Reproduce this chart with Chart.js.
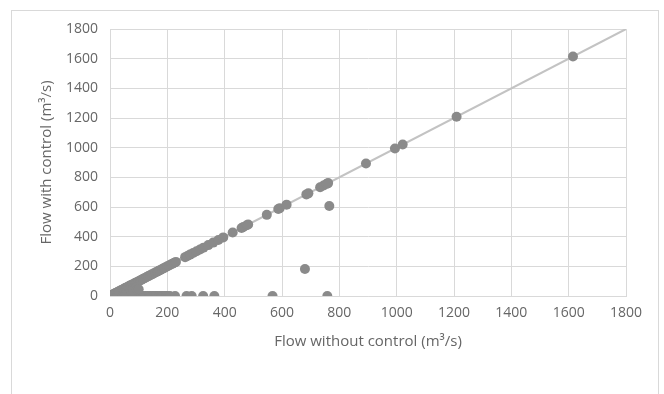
<!DOCTYPE html>
<html>
<head>
<meta charset="utf-8">
<script src="https://cdn.jsdelivr.net/npm/chart.js@4/dist/chart.umd.min.js"></script>
<style>
  html, body { margin: 0; padding: 0; background: #fff; }
  #wrap { position: relative; width: 664px; height: 394px; overflow: hidden; }
  #frame { position: absolute; left: 11px; top: 10px; width: 648px; height: 420px; border: 1px solid #d9d9d9; box-sizing: border-box; }
  canvas { position: absolute; left: 0; top: 0; }
</style>
</head>
<body>
<div id="wrap">
  <div id="frame"></div>
  <canvas id="chart" width="664" height="394"></canvas>
</div>
<script>
// points lying on the 1:1 line
const onLineX = [0, 3, 6, 9, 12, 15, 18, 21, 24, 27, 30, 34, 38, 42, 46, 50, 54, 58, 62, 66, 70, 75, 80, 85, 90, 95, 100,
    105, 110, 116, 122, 128, 134, 140, 146, 152, 158, 164, 170, 176, 182, 188, 194, 200, 206, 212, 218, 224, 230,
    262, 270, 279, 290, 302, 314, 326, 343, 360, 378, 395, 428, 459, 465, 477, 482, 547, 587, 592, 616,
    685, 692, 733, 745, 756, 761, 893, 994, 1021, 1209, 1615];
const onLineY = [0, 3, 6, 9, 12, 15, 18, 21, 24, 27, 30, 34, 38, 42, 46, 50, 54, 58, 62, 66, 70, 75, 80, 85, 90, 95, 100,
    105, 110, 116, 122, 128, 134, 140, 146, 152, 158, 164, 170, 176, 182, 188, 194, 200, 206, 212, 218, 224, 230,
    262, 270, 279, 290, 302, 314, 326, 343, 360, 378, 395, 428, 459, 465, 477, 482, 547, 587, 592, 616,
    685, 692, 733, 745, 756, 761, 893, 994, 1021, 1209, 1615];

// points fully cut off (flow with control = 0)
const zeroX = [0, 5, 10, 16, 22, 28, 34, 40, 46, 52, 58, 64, 70, 76, 82, 88, 94, 100, 106, 112, 118, 124, 130,
    136, 142, 148, 154, 160, 166, 172, 178, 184, 190, 196, 202, 209, 227, 267, 285, 325, 364, 567, 758];

// partly reduced small flows near the origin
const wedgeX = [15, 25, 30, 40, 45, 50, 55, 60, 65, 70, 75, 80, 85, 90, 95, 100];
const wedgeY = [8, 12, 5, 20, 10, 25, 15, 35, 20, 40, 28, 50, 30, 55, 40, 45];

// other reduced flows
const reducedX = [765, 680];
const reducedY = [607, 182];

const lineEnds = [0, 1800];
const tickStep = 200;

const pts = [];
onLineX.forEach((x, i) => pts.push({ x: x, y: onLineY[i] }));
zeroX.forEach(x => pts.push({ x: x, y: 0 }));
wedgeX.forEach((x, i) => pts.push({ x: x, y: wedgeY[i] }));
reducedX.forEach((x, i) => pts.push({ x: x, y: reducedY[i] }));

const textClr = '#666666';
const gridClr = '#d9d9d9';
const fontName = '"Open Sans", "Liberation Sans", sans-serif';

new Chart(document.getElementById('chart').getContext('2d'), {
    type: 'scatter',
    data: {
        datasets: [
            {
                data: pts,
                backgroundColor: '#8a8a8a', borderColor: '#8a8a8a',
                pointRadius: 5, borderWidth: 0, order: 0
            },
            {
                type: 'line',
                data: lineEnds.map(v => ({ x: v, y: v })),
                borderColor: '#c3c3c3', borderWidth: 2,
                pointRadius: 0, fill: false, order: 1
            }
        ]
    },
    options: {
        responsive: false, animation: false,
        layout: { padding: { left: 35, right: 38, top: 29, bottom: 40 } },
        plugins: { legend: { display: false }, tooltip: { enabled: false } },
        scales: {
            x: {
                type: 'linear', min: 0, max: 1800,
                afterFit: s => { s.height = 58; },
                grid: { color: gridClr, drawTicks: false },
                border: { color: gridClr },
                ticks: { stepSize: tickStep, color: textClr, padding: 9, callback: v => String(v),
                         font: { family: fontName, size: 14 } },
                title: { display: true, text: 'Flow without control (m³/s)', color: textClr, padding: 3,
                         font: { family: fontName, size: 15 } }
            },
            y: {
                min: 0, max: 1800,
                afterFit: s => { s.width = 75; },
                grid: { color: gridClr, drawTicks: false },
                border: { color: gridClr },
                ticks: { stepSize: tickStep, color: textClr, padding: 12, callback: v => String(v),
                         font: { family: fontName, size: 14 } },
                title: { display: true, text: 'Flow with control (m³/s)', color: textClr, padding: 3,
                         font: { family: fontName, size: 15 } }
            }
        }
    }
});
</script>
</body>
</html>
